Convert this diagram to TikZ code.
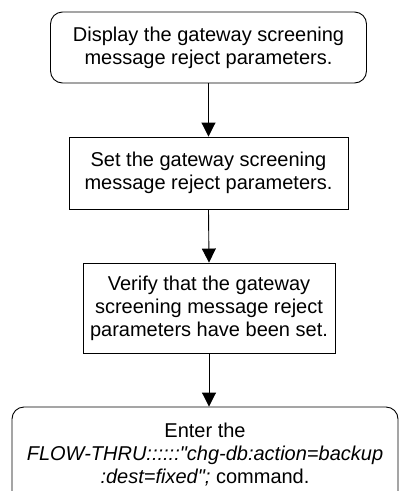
\documentclass[tikz,border=0pt]{standalone}
\usepackage{fontspec}
\setmainfont{Liberation Sans}[Ligatures=TeXOff]
\usetikzlibrary{arrows.meta}
\begin{document}
\begin{tikzpicture}[x=1pt,y=-1pt,
  box/.style={draw, line width=0.9pt, align=center, inner sep=0pt,
    font=\fontsize{20}{23}\selectfont},
  rbox/.style={box, rounded corners=12pt},
  conn/.style={line width=0.9pt, -{Triangle[width=14pt,length=14pt]}}]
\useasboundingbox (0,0) rectangle (399,491);
\clip (0,0) rectangle (399,491);
\node[rbox, minimum width=316pt, minimum height=71pt] (b1) at (208.5,47.5)
  {Display the gateway screening\\message reject parameters.};
\node[box, minimum width=279pt, minimum height=72pt] (b2) at (208.5,173)
  {Set the gateway screening\\message reject parameters.};
\node[box, minimum width=252pt, minimum height=90pt] (b3) at (209,308)
  {Verify that the gateway\\screening message reject\\parameters have been set.};
\node[rbox, minimum width=386pt, minimum height=96pt] (b4) at (205,455)
  {Enter the\\\textit{FLOW-THRU::::::"chg-db:action=backup}\\\textit{:dest=fixed";} command.};
\draw[conn] (b1.south) -- (b2.north);
\draw[conn] (b2.south) -- (b3.north);
\draw[conn] (b3.south) -- (b3.south |- b4.north);
\end{tikzpicture}
\end{document}
